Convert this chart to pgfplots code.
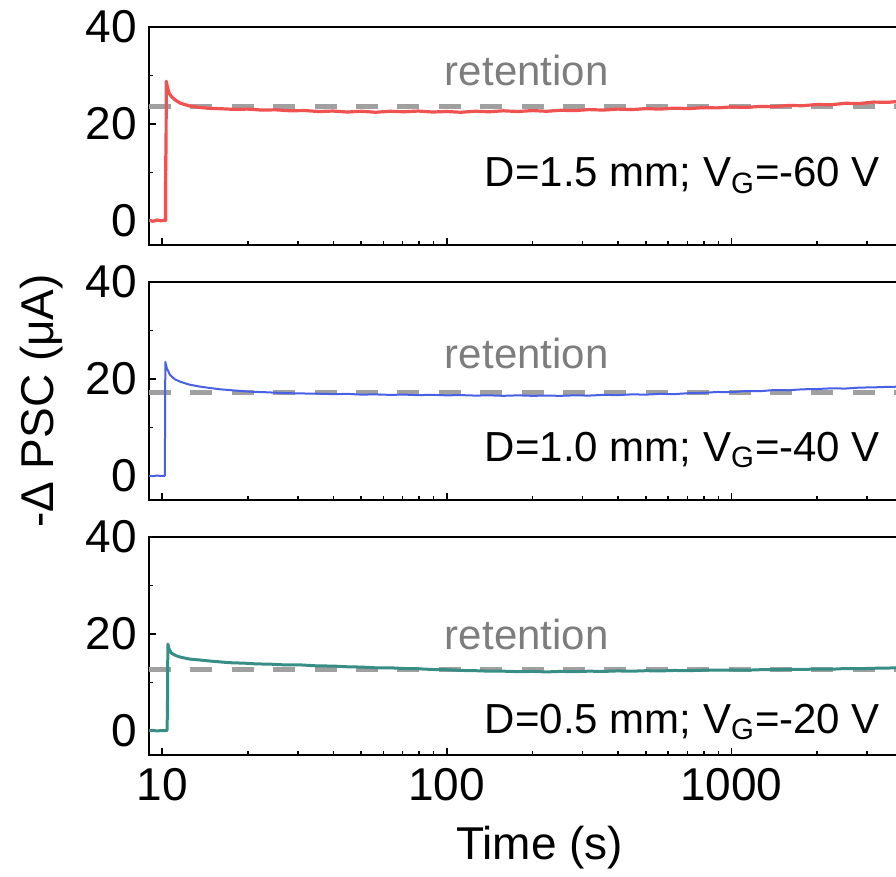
\documentclass[border=0pt]{standalone}
\usepackage{fontspec}
\setmainfont{Liberation Sans}
\usepackage{pgfplots}
\pgfplotsset{compat=1.18}
\definecolor{cred}{RGB}{240,82,82}
\definecolor{cblue}{RGB}{72,96,230}
\definecolor{cteal}{RGB}{56,142,132}
\definecolor{dashgray}{RGB}{160,160,160}
\definecolor{txtgray}{RGB}{125,125,125}
\pgfplotsset{
  mypanel/.style={
    scale only axis, width=390.7pt, height=109pt,
    xmin=9, xmax=5000, ymin=-5, ymax=40,
    xtick={10,100,1000},
    minor xtick={20,30,40,50,60,70,80,90,200,300,400,500,600,700,800,900,2000,3000,4000},
    ytick={0,20,40}, minor ytick={10,30},
    yticklabels={0,20,40},
    xtick pos=left, ytick pos=left, tick align=inside,
    major tick length=3.5pt, minor tick length=2pt,
    axis line style={line width=1pt},
    major tick style={line width=0.8pt, black},
    minor tick style={line width=0.8pt, black},
    tick label style={font=\fontsize{23}{27}\selectfont},
    xticklabel style={inner sep=0pt, yshift=-6.5pt},
    yticklabel style={inner sep=0pt, xshift=-6pt},
    anchor=south west,
  },
  retline/.style={color=dashgray, line width=2.5pt, dash pattern=on 11pt off 9.7pt},
  dat/.style={line join=round},
}
\begin{document}
\begin{tikzpicture}
\useasboundingbox (0,0) rectangle (448pt,438.5pt);
\clip (0,0) rectangle (448pt,438.5pt);
% ---------- panel 1 ----------
\begin{semilogxaxis}[mypanel, at={(74.5pt,316pt)}, xticklabels={}]
\addplot[retline] coordinates {(9,23.5) (5000,23.5)};
\addplot[dat, cred, line width=1.6pt] coordinates {
(9,0.1) (9.3,-0.1) (9.6,0.15) (9.9,0.0) (10.1,0.1) (10.28,0.05) (10.3,12.0) (10.33,15.0)
(10.35,28.8) (10.45,27.5) (10.6,26.3) (10.8,25.6) (11.2,24.8) (11.6,24.25) (12.5,23.7)
(13.5,23.4) (14.7,23.2) (15.8,23.15) (17.8,23.0) (20.0,23.05) (22.4,22.85) (25.1,22.9)
(28.2,22.7) (31.6,22.75) (35.5,22.55) (39.8,22.65) (44.7,22.45) (50.1,22.6) (56.2,22.4)
(63.1,22.6) (70.8,22.5) (79.4,22.65) (89.1,22.45) (100,22.55) (112,22.4) (126,22.6)
(141,22.5) (158,22.7) (178,22.55) (200,22.75) (224,22.6) (251,22.8) (282,22.75)
(316,22.95) (355,22.85) (398,23.05) (447,22.95) (501,23.15) (562,23.05) (631,23.25)
(708,23.15) (794,23.35) (891,23.3) (1000,23.5) (1122,23.4) (1259,23.6) (1413,23.55)
(1585,23.8) (1778,23.75) (1995,24.0) (2239,23.95) (2512,24.25) (2818,24.2) (3162,24.5)
(3548,24.45) (3981,24.7)};
\node[anchor=base, text=txtgray, font=\fontsize{21}{25}\selectfont] at (axis cs:191,28.0) {retention};
\node[anchor=base east, font=\fontsize{21}{25}\selectfont] at (axis cs:3520,7.0) {D=1.5 mm; V\textsubscript{G}=-60 V};
\end{semilogxaxis}
% ---------- panel 2 ----------
\begin{semilogxaxis}[mypanel, at={(74.5pt,188.5pt)}, xticklabels={}]
\addplot[retline] coordinates {(9,17.15) (5000,17.15)};
\addplot[dat, cblue, line width=1.0pt] coordinates {
(9,0.0) (9.3,-0.1) (9.6,0.05) (9.9,-0.05) (10.1,0.0) (10.23,0.0) (10.27,23.5) (10.4,22.2)
(10.67,20.8) (11.1,19.9) (11.6,19.4) (12.5,18.8) (13.6,18.4) (14.8,18.1) (16,17.85)
(18,17.6) (20.4,17.35) (23,17.25) (26,17.1) (30,17.0) (35,16.95) (40,16.85) (45,16.9)
(50,16.75) (56,16.8) (63,16.7) (71,16.75) (79,16.65) (89,16.7) (100,16.6) (112,16.65)
(126,16.55) (141,16.6) (158,16.5) (178,16.6) (200,16.5) (224,16.55) (251,16.5) (282,16.6)
(316,16.55) (355,16.7) (398,16.65) (447,16.8) (501,16.75) (562,16.9) (631,16.85)
(708,17.05) (794,17.1) (891,17.3) (1000,17.25) (1122,17.5) (1259,17.45) (1413,17.7)
(1585,17.65) (1778,17.85) (1995,17.9) (2239,18.05) (2512,18.0) (2818,18.2) (3162,18.25)
(3548,18.35) (3981,18.4)};
\node[anchor=base, text=txtgray, font=\fontsize{21}{25}\selectfont] at (axis cs:191,22.2) {retention};
\node[anchor=base east, font=\fontsize{21}{25}\selectfont] at (axis cs:3520,2.9) {D=1.0 mm; V\textsubscript{G}=-40 V};
\end{semilogxaxis}
% ---------- panel 3 ----------
\begin{semilogxaxis}[mypanel, at={(74.5pt,61pt)}, xticklabels={10,100,1000},
  xlabel={Time (s)}, xlabel style={font=\fontsize{23}{27}\selectfont, yshift=-9pt}]
\addplot[retline] coordinates {(9,12.7) (5000,12.7)};
\addplot[dat, cteal, line width=1.5pt] coordinates {
(9,0.0) (9.3,0.1) (9.6,-0.05) (9.9,0.05) (10.2,0.0) (10.42,0.1) (10.46,8) (10.48,17.9)
(10.6,16.8) (10.8,16.0) (11.2,15.5) (11.6,15.2) (12.5,14.8) (13.6,14.6) (15,14.35)
(17.3,14.05) (19.5,13.95) (21.5,13.8) (24,13.75) (27,13.6) (30.5,13.6) (35,13.4)
(40,13.35) (45,13.2) (50,13.15) (56,13.0) (63,13.0) (71,12.85) (79,12.8) (89,12.65)
(100,12.6) (112,12.45) (126,12.4) (141,12.3) (158,12.3) (178,12.2) (200,12.25)
(224,12.15) (251,12.25) (282,12.2) (316,12.3) (355,12.25) (398,12.35) (447,12.3)
(501,12.4) (562,12.35) (631,12.45) (708,12.4) (794,12.5) (891,12.5) (1000,12.55)
(1122,12.5) (1259,12.6) (1413,12.6) (1585,12.7) (1778,12.65) (1995,12.75) (2239,12.7)
(2512,12.85) (2818,12.8) (3162,12.9) (3548,12.95) (3981,13.0)};
\node[anchor=base, text=txtgray, font=\fontsize{21}{25}\selectfont] at (axis cs:191,16.7) {retention};
\node[anchor=base east, font=\fontsize{21}{25}\selectfont] at (axis cs:3520,-0.5) {D=0.5 mm; V\textsubscript{G}=-20 V};
\end{semilogxaxis}
\node[rotate=90, anchor=base, font=\fontsize{23}{27}\selectfont] at (26.65pt,238pt) {-Δ PSC (μA)};
\end{tikzpicture}
\end{document}
